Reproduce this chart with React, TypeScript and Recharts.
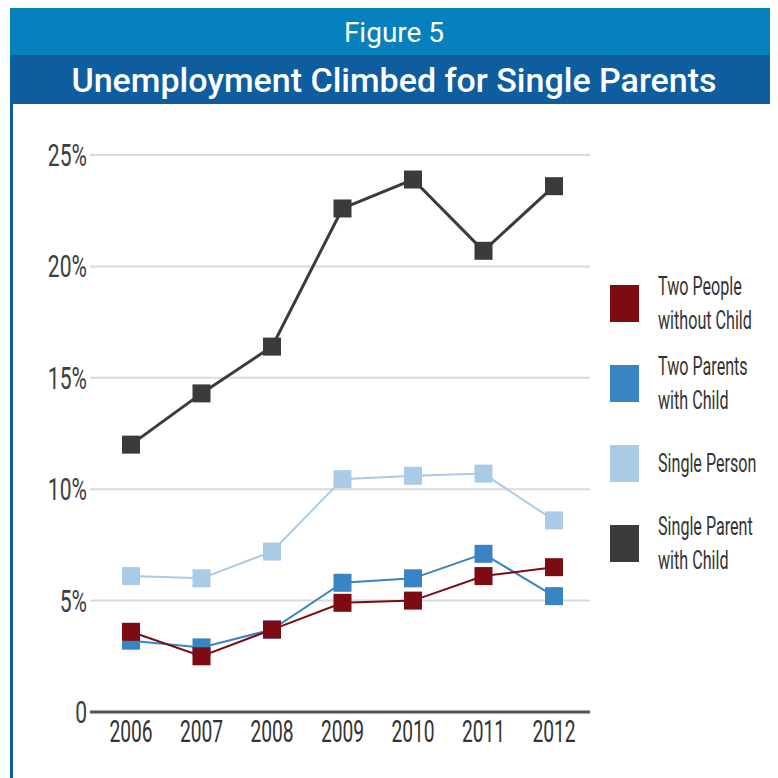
// Figure 5 — unemployment rate by household type, 2006–2012.
// Four lines with square markers, legend on the right.

import { LineChart, Line, XAxis, YAxis, CartesianGrid } from 'recharts'

const years = ['2006', '2007', '2008', '2009', '2010', '2011', '2012']

const twoPeople = [3.6, 2.5, 3.7, 4.9, 5.0, 6.1, 6.5]
const twoParents = [3.2, 2.9, 3.7, 5.8, 6.0, 7.1, 5.2]
const singlePerson = [6.1, 6.0, 7.2, 10.45, 10.6, 10.7, 8.6]
const singleParent = [12.0, 14.3, 16.4, 22.6, 23.9, 20.7, 23.6]

const yTicks = [0, 5, 10, 15, 20, 25]

const series = [
  { key: 'singleParent', label: ['Single Parent', 'with Child'], color: '#3b3b3b', width: 3 },
  { key: 'singlePerson', label: ['Single Person'], color: '#a9cbe7', width: 2 },
  { key: 'twoParents', label: ['Two Parents', 'with Child'], color: '#3a84c3', width: 2 },
  { key: 'twoPeople', label: ['Two People', 'without Child'], color: '#7c0b12', width: 2 },
]

// legend lists them top-down in this order
const legendOrder = ['twoPeople', 'twoParents', 'singlePerson', 'singleParent']

const data = years.map((year, i) => ({
  year,
  twoPeople: twoPeople[i],
  twoParents: twoParents[i],
  singlePerson: singlePerson[i],
  singleParent: singleParent[i],
}))

const FONT = 'Roboto, "Liberation Sans", sans-serif'
const SQUEEZE = 0.62 // fake a condensed face

function squareDot(color: string) {
  return (p: any) => (
    <rect
      key={`${color}-${p.index}`}
      x={p.cx - 9}
      y={p.cy - 9}
      width={18}
      height={18}
      fill={color}
    />
  )
}

function XTick({ x, y, payload }: any) {
  return (
    <text
      transform={`translate(${x},${y + 30}) scale(${SQUEEZE},1)`}
      textAnchor="middle"
      fontSize={31}
      fontFamily={FONT}
      fill="#333"
    >
      {payload.value}
    </text>
  )
}

function YTick({ x, y, payload }: any) {
  const v = payload.value
  return (
    <text
      transform={`translate(${x},${y + 11}) scale(0.68,1)`}
      textAnchor="end"
      fontSize={31}
      fontFamily={FONT}
      fill="#3d3d3d"
    >
      {v === 0 ? '0' : `${v}%`}
    </text>
  )
}

function SideLegend() {
  return (
    <div
      style={{
        position: 'absolute',
        left: 602,
        top: 255,
        fontFamily: FONT,
        color: '#333',
        fontSize: 26,
        lineHeight: '34px',
      }}
    >
      {legendOrder.map((k) => {
        const s = series.find((x) => x.key === k)!
        return (
          <div key={k} style={{ display: 'flex', alignItems: 'center', height: 80 }}>
            <div style={{ width: 29, height: 37, background: s.color, marginRight: 19 }} />
            <div style={{ transform: `scale(${SQUEEZE},1)`, transformOrigin: 'left center', whiteSpace: 'nowrap' }}>
              {s.label.map((t) => (
                <div key={t}>{t}</div>
              ))}
            </div>
          </div>
        )
      })}
    </div>
  )
}

export default function App() {
  return (
    <div style={{ position: 'relative', width: 770, height: 770, fontFamily: FONT }}>
      <div
        style={{
          position: 'absolute',
          left: 2,
          top: 0,
          width: 768,
          height: 47,
          background: '#0781be',
          color: '#fff',
          fontSize: 28,
          lineHeight: '49px',
          textAlign: 'center',
        }}
      >
        Figure 5
      </div>
      <div
        style={{
          position: 'absolute',
          left: 2,
          top: 47,
          width: 768,
          height: 49,
          background: '#0e5e9f',
          color: '#fff',
          fontSize: 34,
          fontWeight: 500,
          lineHeight: '50px',
          textAlign: 'center',
        }}
      >
        Unemployment Climbed for Single Parents
      </div>
      <div
        style={{
          position: 'absolute',
          left: 2,
          top: 96,
          width: 3,
          height: 674,
          background: '#0e5e9f',
        }}
      />
      <div style={{ position: 'absolute', left: 0, top: 100 }}>
        <LineChart
          width={770}
          height={670}
          data={data}
          margin={{ top: 47, right: 188, left: 22, bottom: 26 }}
        >
          <CartesianGrid vertical={false} stroke="#dadada" strokeWidth={2} />
          <XAxis
            dataKey="year"
            padding={{ left: 41, right: 36 }}
            tickLine={false}
            tickSize={0}
            tickMargin={0}
            axisLine={{ stroke: '#555', strokeWidth: 3 }}
            tick={<XTick />}
            height={40}
          />
          <YAxis
            domain={[0, 25]}
            ticks={yTicks}
            tickLine={false}
            tickSize={0}
            tickMargin={3}
            axisLine={false}
            tick={<YTick />}
            width={60}
          />
          {series.map((s) => (
            <Line
              key={s.key}
              dataKey={s.key}
              type="linear"
              stroke={s.color}
              strokeWidth={s.width}
              dot={squareDot(s.color)}
              activeDot={false}
              isAnimationActive={false}
            />
          ))}
        </LineChart>
      </div>
      <SideLegend />
    </div>
  )
}
